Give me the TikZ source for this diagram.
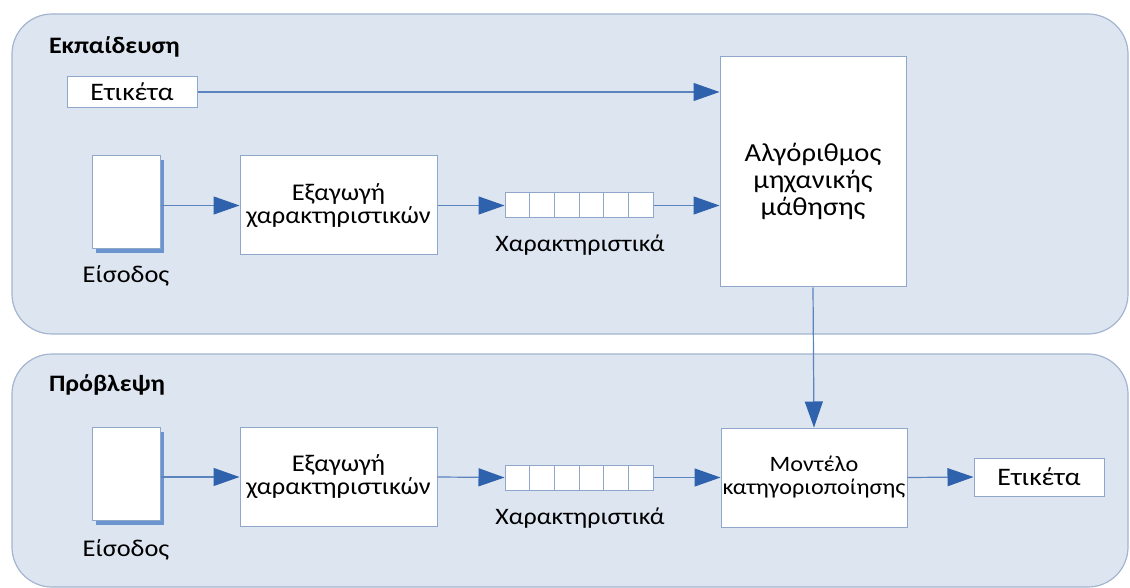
\documentclass[tikz,border=0pt]{standalone}
\usepackage{fontspec}
\setmainfont[FakeStretch=1.1]{Carlito}
\usetikzlibrary{arrows.meta,shadows}
\definecolor{FlowPanel}{HTML}{DDE5F0}
\definecolor{FlowPanelLine}{HTML}{A3B5CF}
\definecolor{FlowBoxLine}{HTML}{8FA7CA}
\definecolor{FlowArrow}{HTML}{5B84BE}
\definecolor{FlowTip}{HTML}{2F62AC}
\definecolor{FlowShadow}{HTML}{6C94CE}
\tikzset{
  panel/.style={draw=FlowPanelLine,fill=FlowPanel,line width=0.6pt,rounded corners=20pt},
  procbox/.style={draw=FlowBoxLine,fill=white,line width=0.5pt,align=center,
    inner sep=0pt,font=\fontsize{12}{11.5}\selectfont},
  docbox/.style={procbox,minimum width=34pt,minimum height=46.5pt,
    drop shadow={shadow xshift=2pt,shadow yshift=-2pt,fill=FlowShadow,opacity=1}},
  cellbox/.style={procbox,minimum width=12.33pt,minimum height=12.5pt},
  flow/.style={draw=FlowArrow,line width=0.6pt,
    -{Triangle[length=13pt,width=9pt,color=FlowTip]}},
  caption/.style={font=\fontsize{12}{14}\selectfont},
  section title/.style={anchor=west,font=\bfseries\fontsize{11.8}{14}\selectfont}
}
\begin{document}
\begin{tikzpicture}[x=0.5pt,y=-0.5pt]
  \useasboundingbox (0,0) rectangle (1130,588);
  % two stages
  \draw[panel] (12,14) rectangle (1128,334);
  \draw[panel] (12,354) rectangle (1128,587);
  \node[section title] (trainTitle) at (42,47) {Εκπαίδευση};
  \node[section title] (predTitle) at (42,385) {Πρόβλεψη};

  % training
  \node[procbox,minimum width=65pt,minimum height=15.5pt,
    font=\fontsize{12.6}{14}\selectfont] (labelA) at (132,92) {Ετικέτα};
  \node[docbox] (docA) at (126,202.5) {};
  \node[caption] (docTextA) at (126,276) {Είσοδος};
  \node[procbox,minimum width=98.5pt,minimum height=49.5pt] (extractA) at (338.5,205.5)
    {Εξαγωγή\\χαρακτηριστικών};
  \foreach \i in {1,...,6}
    \node[cellbox] (vecA\i) at ({505+24.67*(\i-0.5)},205.5) {};
  \node[caption,font=\fontsize{11.8}{14}\selectfont] (vecTextA) at (580,245)
    {Χαρακτηριστικά};
  \node[procbox,minimum width=93pt,minimum height=115pt,
    font=\fontsize{13}{13.5}\selectfont] (algo) at (813,172)
    {\mbox{}\\[5.5pt]Αλγόριθμος\\μηχανικής\\μάθησης};

  \draw[flow] (labelA.east) -- (labelA.east -| algo.west);
  \draw[flow] (docA.east |- extractA.west) -- (extractA.west);
  \draw[flow] (extractA.east) -- (vecA1.west);
  \draw[flow] (vecA6.east) -- (vecA6.east -| algo.west);

  % prediction
  \node[docbox] (docB) at (126,474) {};
  \node[caption] (docTextB) at (126,550) {Είσοδος};
  \node[procbox,minimum width=98.5pt,minimum height=49.5pt] (extractB) at (338.5,477)
    {Εξαγωγή\\χαρακτηριστικών};
  \foreach \i in {1,...,6}
    \node[cellbox] (vecB\i) at ({505+24.67*(\i-0.5)},477.5) {};
  \node[caption,font=\fontsize{11.8}{14}\selectfont] (vecTextB) at (580,518)
    {Χαρακτηριστικά};
  \node[procbox,minimum width=93pt,minimum height=49.5pt,
    font=\fontsize{11}{11.5}\selectfont] (model) at (814,477.5)
    {Μοντέλο\\κατηγοριοποίησης};
  \node[procbox,minimum width=65pt,minimum height=19pt,
    font=\fontsize{12.6}{14}\selectfont] (labelB) at (1039,477) {Ετικέτα};

  \draw[flow] (docB.east |- extractB.west) -- (extractB.west);
  \draw[flow] (extractB.east) -- (vecB1.west);
  \draw[flow] (vecB6.east) -- (vecB6.east -| model.west);
  \draw[flow] (model.east) -- (labelB.west);
  \draw[flow] (algo.south) -- (model.north);
\end{tikzpicture}
\end{document}
